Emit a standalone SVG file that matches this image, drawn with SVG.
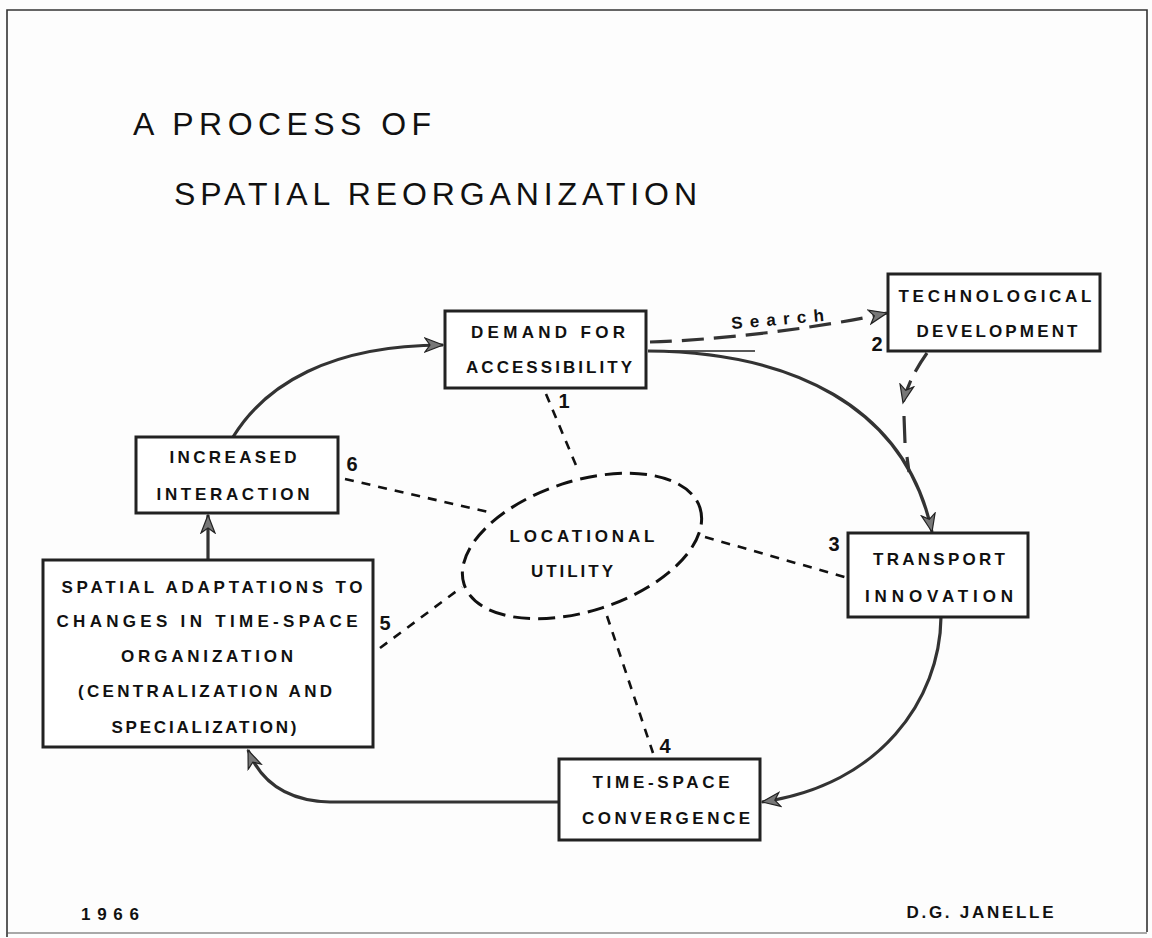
<svg xmlns="http://www.w3.org/2000/svg" width="1152" height="938" viewBox="0 0 1152 938">
<defs>
<style>
.box{fill:#fff;stroke:#222;stroke-width:3}
.t{font-family:"Liberation Sans",Arial,sans-serif;font-weight:bold;font-size:17px;fill:#111;text-anchor:middle}
.n{font-family:"Liberation Sans",Arial,sans-serif;font-weight:bold;font-size:20px;fill:#111;text-anchor:middle}
.title{font-family:"Liberation Sans",Arial,sans-serif;font-size:32px;fill:#111}
.flow{fill:none;stroke:#333;stroke-width:3.2;marker-end:url(#arr)}
.dflow{fill:none;stroke:#333;stroke-width:3.2;stroke-dasharray:22 10}
.spoke{fill:none;stroke:#111;stroke-width:2.6;stroke-dasharray:9 8}
.ell{fill:none;stroke:#111;stroke-width:3;stroke-dasharray:17 8}
</style>
<marker id="arr" markerUnits="userSpaceOnUse" markerWidth="22" markerHeight="18" refX="19" refY="9" orient="auto">
<path d="M1,2 L19,9 L1,16 L6,9 Z" fill="#777" stroke="#222" stroke-width="1.2"/>
</marker>
</defs>
<rect width="1152" height="938" fill="#fdfdfd"/>
<path d="M7,937 V10 H1147 V932" fill="none" stroke="#333" stroke-width="1.6"/>
<line x1="7" y1="933" x2="1147" y2="933" stroke="#555" stroke-width="1.2"/>

<g id="title">
<text class="title" x="133" y="135" textLength="298" lengthAdjust="spacing">A PROCESS OF</text>
<text class="title" x="174" y="205" textLength="523" lengthAdjust="spacing">SPATIAL REORGANIZATION</text>
</g>

<g id="connectors">
<path class="flow" d="M233,437 C265,385 330,345 443,345"/>
<line x1="648" y1="351" x2="755" y2="351" stroke="#222" stroke-width="1.5"/>
<path class="flow" d="M648,351 C790,352 905,405 932,532"/>
<path class="dflow" d="M650,342 C720,340 820,328 887,313" marker-end="url(#arr)"/>
<path class="dflow" d="M927,353 Q908,380 903,403" stroke-dasharray="14 8" marker-end="url(#arr)"/>
<path fill="none" stroke="#333" stroke-width="3.2" d="M904,416 L905,443 M907,457 L909,472"/>
<path class="flow" d="M941,617 C940,700 880,785 762,802"/>
<path class="flow" d="M559,802 H330 C290,801 262,785 248,750"/>
<path class="flow" d="M208,560 L208,515"/>
<path class="spoke" d="M546,394 L578,470"/>
<path class="spoke" d="M345,479 L488,512"/>
<path class="spoke" d="M705,537 L848,578"/>
<path class="spoke" d="M380,648 L462,587"/>
<path class="spoke" d="M607,616 L653,753"/>
<text class="t" x="778" y="325" font-size="16" textLength="93" lengthAdjust="spacing" transform="rotate(-5 778 325)">Search</text>
</g>

<g id="demand">
<rect class="box" x="445" y="311" width="201" height="77"/>
<text class="t" x="548" y="338" textLength="154" lengthAdjust="spacing">DEMAND FOR</text>
<text class="t" x="549" y="373" textLength="166" lengthAdjust="spacing">ACCESSIBILITY</text>
<text class="n" x="564" y="408">1</text>
</g>

<g id="technological">
<rect class="box" x="888" y="274" width="212" height="77"/>
<text class="t" x="995" y="302" textLength="193" lengthAdjust="spacing">TECHNOLOGICAL</text>
<text class="t" x="997" y="337" textLength="161" lengthAdjust="spacing">DEVELOPMENT</text>
<text class="n" x="877" y="351">2</text>
</g>

<g id="transport">
<rect class="box" x="848" y="533" width="180" height="84"/>
<text class="t" x="939" y="565" textLength="132" lengthAdjust="spacing">TRANSPORT</text>
<text class="t" x="939" y="602" textLength="148" lengthAdjust="spacing">INNOVATION</text>
<text class="n" x="834" y="551">3</text>
</g>

<g id="timespace">
<rect class="box" x="559" y="759" width="201" height="81"/>
<text class="t" x="661" y="788" textLength="137" lengthAdjust="spacing">TIME-SPACE</text>
<text class="t" x="666" y="824" textLength="168" lengthAdjust="spacing">CONVERGENCE</text>
<text class="n" x="665" y="753">4</text>
</g>

<g id="spatial">
<rect class="box" x="43" y="560" width="330" height="187"/>
<text class="t" x="212" y="593" textLength="301" lengthAdjust="spacing">SPATIAL ADAPTATIONS TO</text>
<text class="t" x="207" y="627" textLength="301" lengthAdjust="spacing">CHANGES IN TIME-SPACE</text>
<text class="t" x="207" y="662" textLength="172" lengthAdjust="spacing">ORGANIZATION</text>
<text class="t" x="205" y="697" textLength="254" lengthAdjust="spacing">(CENTRALIZATION AND</text>
<text class="t" x="204" y="733" textLength="185" lengthAdjust="spacing">SPECIALIZATION)</text>
<text class="n" x="385" y="630">5</text>
</g>

<g id="increased">
<rect class="box" x="136" y="437" width="202" height="76"/>
<text class="t" x="233" y="463" textLength="127" lengthAdjust="spacing">INCREASED</text>
<text class="t" x="233" y="500" textLength="153" lengthAdjust="spacing">INTERACTION</text>
<text class="n" x="352" y="471">6</text>
</g>

<g id="locational">
<ellipse class="ell" cx="582" cy="546" rx="124" ry="65" transform="rotate(-18 582 546)"/>
<text class="t" x="582" y="542" textLength="145" lengthAdjust="spacing">LOCATIONAL</text>
<text class="t" x="572" y="577" textLength="82" lengthAdjust="spacing">UTILITY</text>
</g>

<g id="footer">
<text class="t" x="110" y="920" font-size="19" textLength="58" lengthAdjust="spacing">1966</text>
<text class="t" x="980" y="918" font-size="18" textLength="147" lengthAdjust="spacing">D.G. JANELLE</text>
</g>
</svg>
